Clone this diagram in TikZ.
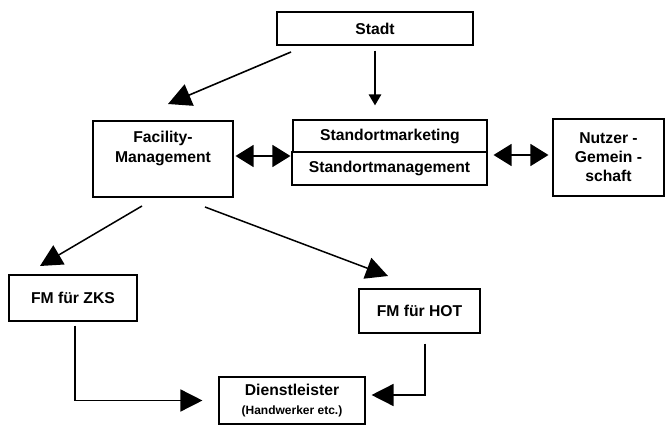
\documentclass[tikz,border=0pt]{standalone}
\usepackage{fontspec}
\setmainfont{Liberation Sans}
\usetikzlibrary{arrows.meta}

\tikzset{
  box/.style={draw, fill=white, line width=1.1pt, inner sep=0pt, align=center,
    font=\fontsize{15.7}{19}\selectfont\bfseries},
  lbl/.style={align=center, inner sep=0pt, font=\fontsize{15.7}{20}\selectfont\bfseries},
  arrbig/.style={line width=1.6pt, -{Triangle[length=23pt,width=23pt]}},
  arrdown/.style={line width=2.6pt, -{Triangle[length=11pt,width=12pt]}},
  arrdbl/.style={line width=1.4pt, {Triangle[length=18pt,width=22pt]}-{Triangle[length=18pt,width=22pt]}},
  arrlow/.style={line width=1.5pt, -{Triangle[length=22pt,width=22pt]}}
}

\begin{document}
\begin{tikzpicture}[x=1pt,y=-1pt]
\useasboundingbox (0,0) rectangle (665,425);

%top
\node[box, minimum width=196, minimum height=33] (stadt) at (375,28.5) {Stadt};

%middle row
\node[box, minimum width=140, minimum height=76] (fm) at (163,159) {};
\node[lbl] (fmtext) at (163,148) {Facility-\\Management};
\node[box, minimum width=194, minimum height=32] (smkt) at (390,136) {Standortmarketing};
\node[box, minimum width=195, minimum height=33] (smgmt) at (389.5,168.5) {Standortmanagement};
\node[box, minimum width=111, minimum height=77] (nutzer) at (608.5,157.5) {Nutzer -\\Gemein -\\schaft};

%lower row
\node[box, minimum width=128, minimum height=46] (zks) at (73,298) {FM f\"ur ZKS};
\node[box, minimum width=121, minimum height=44] (hot) at (419.5,311) {FM f\"ur HOT};
\node[box, minimum width=146, minimum height=47] (dienst) at (292,400.5)
  {Dienstleister\\[0pt]{\fontsize{12}{13}\selectfont(Handwerker etc.)}};

%arrow ends
\coordinate (sfrom) at (291,52);
\coordinate (fmto) at (168,104);
\coordinate (fmleft) at (142,206);
\coordinate (zksto) at (40,266);
\coordinate (fmright) at (205,207);
\coordinate (hotto) at (388,276);
\coordinate (nu) at ([yshift=2.5pt]nutzer.west);

%connectors
\draw[arrbig] (sfrom) -- (fmto);
\draw[arrdown, shorten <=5pt, shorten >=14pt] (stadt.south) -- (stadt.south |- smkt.north);
\draw[arrdbl, shorten <=2pt, shorten >=2pt] ([yshift=3pt]fm.east) -- ([yshift=3pt]fm.east -| smkt.west);
\draw[arrdbl, shorten <=6pt, shorten >=4pt] (smgmt.east |- nu) -- (nu);

\draw[arrlow] (fmleft) -- (zksto);
\draw[arrlow] (fmright) -- (hotto);
\draw[arrlow] ([xshift=2pt,yshift=-4pt]zks.south) |- ([xshift=-16pt]dienst.west);
\draw[arrlow] ([xshift=5.5pt,yshift=-10pt]hot.south) |- ([xshift=6pt,yshift=5.5pt]dienst.east);

\end{tikzpicture}
\end{document}
